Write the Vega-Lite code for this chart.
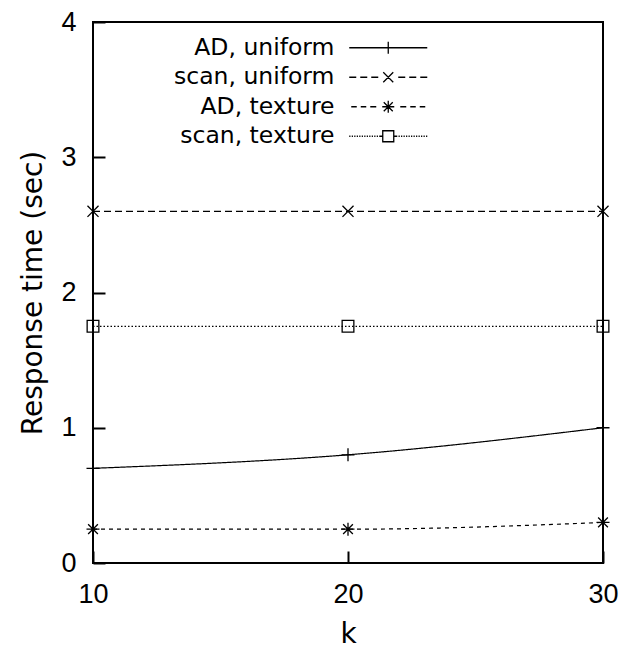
{
  "$schema": "https://vega.github.io/schema/vega-lite/v6.json",
  "width": 510,
  "height": 541,
  "autosize": {"type": "none"},
  "padding": {"left": 93, "top": 22, "right": 16, "bottom": 87},
  "background": "white",
  "config": {
    "font": "Liberation Sans",
    "view": {"stroke": "black", "strokeWidth": 2},
    "axis": {
      "grid": false,
      "labelFlush": false,
      "labelFont": "Liberation Sans",
      "labelFontSize": 27,
      "labelColor": "black",
      "titleFont": "DejaVu Sans",
      "titleFontSize": 28,
      "titleFontWeight": "normal",
      "titleColor": "black"
    }
  },
  "data": {
    "values": [
      {"series": "AD, uniform", "k": 10, "t": 0.7},
      {"series": "AD, uniform", "k": 20, "t": 0.8},
      {"series": "AD, uniform", "k": 30, "t": 1.0},
      {"series": "scan, uniform", "k": 10, "t": 2.6},
      {"series": "scan, uniform", "k": 20, "t": 2.6},
      {"series": "scan, uniform", "k": 30, "t": 2.6},
      {"series": "AD, texture", "k": 10, "t": 0.25},
      {"series": "AD, texture", "k": 20, "t": 0.25},
      {"series": "AD, texture", "k": 30, "t": 0.3},
      {"series": "scan, texture", "k": 10, "t": 1.75},
      {"series": "scan, texture", "k": 20, "t": 1.75},
      {"series": "scan, texture", "k": 30, "t": 1.75}
    ]
  },
  "layer": [
    {
      "mark": {"type": "line", "interpolate": "monotone", "strokeWidth": 1.2, "color": "black"},
      "encoding": {
        "x": {"field": "k", "type": "quantitative", "scale": {"domain": [10, 30]},
              "axis": {"values": [10, 20, 30], "format": "d", "title": "k", "domain": true, "domainOpacity": 0, "offset": -12, "tickColor": "#000000", "tickSize": 12, "tickWidth": 2, "labelPadding": 18, "titlePadding": 13}},
        "y": {"field": "t", "type": "quantitative", "scale": {"domain": [0, 4]},
              "axis": {"values": [0, 1, 2, 3, 4], "format": "d", "title": "Response time (sec)", "domain": true, "domainOpacity": 0, "offset": -12, "tickColor": "#000000", "tickSize": 12, "tickWidth": 2, "labelPadding": 17, "titlePadding": 13}},
        "strokeDash": {"field": "series", "type": "nominal",
              "scale": {"domain": ["AD, uniform", "scan, uniform", "AD, texture", "scan, texture"],
                        "range": [[1, 0], [7, 4], [4, 4], [1.5, 2]]},
              "legend": null}
      }
    },
    {
      "mark": {"type": "point", "filled": false, "strokeWidth": 1.3, "color": "black", "opacity": 1, "size": 169},
      "encoding": {
        "x": {"field": "k", "type": "quantitative"},
        "y": {"field": "t", "type": "quantitative"},
        "shape": {"field": "series", "type": "nominal",
              "scale": {"domain": ["AD, uniform", "scan, uniform", "AD, texture", "scan, texture"],
                        "range": ["M-1,0H1M0,-1V1",
                                  "M-0.85,-0.85L0.85,0.85M-0.85,0.85L0.85,-0.85",
                                  "M-1,0H1M0,-1V1M-0.75,-0.75L0.75,0.75M-0.75,0.75L0.75,-0.75",
                                  "M-0.9,-0.9H0.9V0.9H-0.9Z"]},
              "legend": null}
      }
    },
    {
      "transform": [{"filter": "datum.k < 0"}],
      "mark": {"type": "point", "filled": false, "strokeWidth": 1.3, "color": "black", "opacity": 1},
      "encoding": {
        "shape": {"field": "series", "type": "nominal",
              "scale": {"domain": ["AD, uniform", "scan, uniform", "AD, texture", "scan, texture"],
                        "range": ["M-3.9,0H3.9M0,-0.6V0.6",
                                  "M-3.9,0H-3.2M-2.8,0H-2.1M-1.7,0H-1M-0.5,-0.5L0.5,0.5M-0.5,0.5L0.5,-0.5M1,0H1.7M2.1,0H2.8M3.2,0H3.9",
                                  "M-3.7,0H-3.15M-2.75,0H-2.2M-1.8,0H-1.2M-0.6,0H0.6M0,-0.6V0.6M-0.45,-0.45L0.45,0.45M-0.45,0.45L0.45,-0.45M1.2,0H1.8M2.2,0H2.75M3.15,0H3.7",
                                  "M-3.9,0h0.12M-3.65,0h0.12M-3.4,0h0.12M-3.15,0h0.12M-2.9,0h0.12M-2.65,0h0.12M-2.4,0h0.12M-2.15,0h0.12M-1.9,0h0.12M-1.65,0h0.12M-1.4,0h0.12M-1.15,0h0.12M-0.9,0h0.35M-0.55,-0.55H0.55V0.55H-0.55ZM0.55,0h0.35M1.03,0h0.12M1.28,0h0.12M1.53,0h0.12M1.78,0h0.12M2.03,0h0.12M2.28,0h0.12M2.53,0h0.12M2.78,0h0.12M3.03,0h0.12M3.28,0h0.12M3.53,0h0.12M3.78,0h0.12"]},
              "legend": {
                "orient": "none", "legendX": 255, "legendY": 14, "title": null,
                "symbolSize": 400, "symbolOffset": 28.5, "labelOffset": -65.5,
                "labelAlign": "right", "labelFont": "DejaVu Sans", "labelFontSize": 23.5, "labelColor": "black",
                "labelLimit": 400, "rowPadding": 4.5, "padding": 0,
                "symbolStrokeWidth": 1.3, "symbolStrokeColor": "black", "symbolFillColor": "transparent"
              }}
      }
    }
  ],
  "resolve": {"scale": {"shape": "independent"}, "legend": {"shape": "independent"}}
}
